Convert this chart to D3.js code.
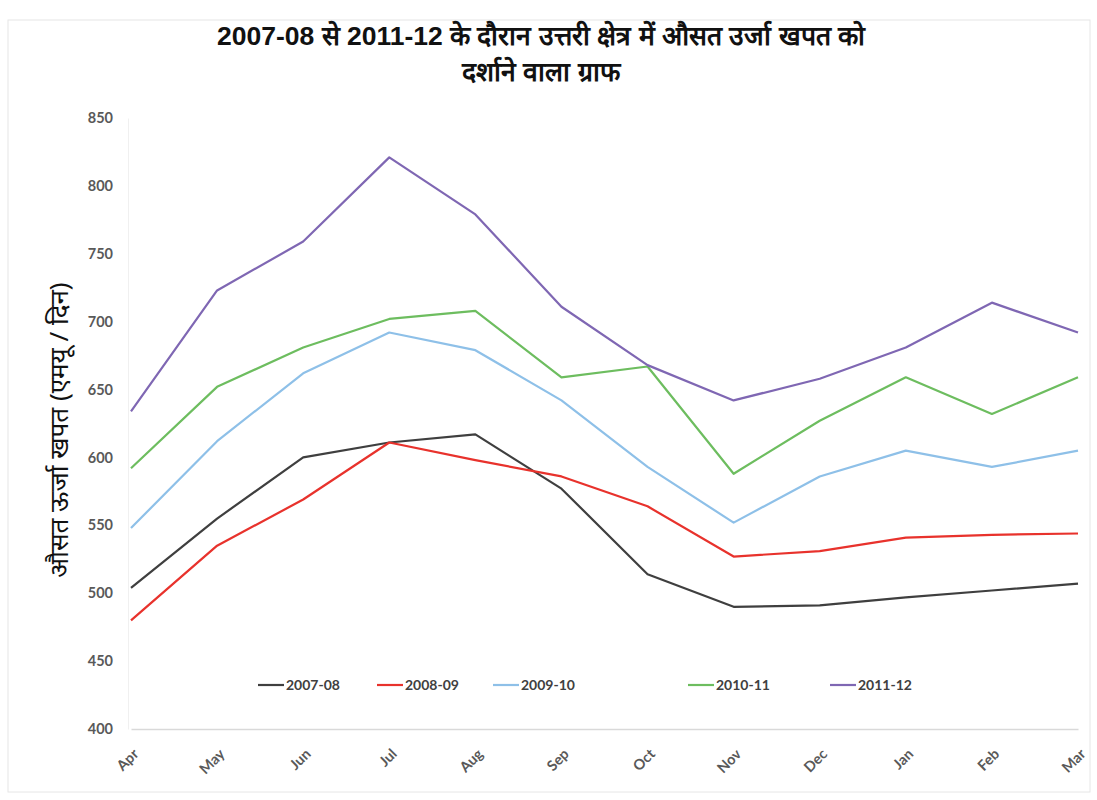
<!DOCTYPE html>
<html>
<head>
<meta charset="utf-8">
<script src="https://cdn.jsdelivr.net/npm/d3@7"></script>
<style>
  body { margin: 0; background: #fff; }
  svg { display: block; }
</style>
</head>
<body>
<svg id="chart" width="1097" height="800"></svg>
<script>
// months (x categories) and the five financial-year series
const months = ['Apr', 'May', 'Jun', 'Jul', 'Aug', 'Sep', 'Oct', 'Nov', 'Dec', 'Jan', 'Feb', 'Mar'];
const years = ['2007-08', '2008-09', '2009-10', '2010-11', '2011-12'];

const y2007 = [504, 555, 600, 611, 617, 577, 514, 490, 491, 497, 502, 507];
const y2008 = [480, 535, 569, 611, 598, 586, 564, 527, 531, 541, 543, 544];
const y2009 = [548, 612, 662, 692, 679, 642, 593, 552, 586, 605, 593, 605];
const y2010 = [592, 652, 681, 702, 708, 659, 667, 588, 627, 659, 632, 659];
const y2011 = [634, 723, 759, 821, 779, 711, 668, 642, 658, 681, 714, 692];

const yTicks = [400, 450, 500, 550, 600, 650, 700, 750, 800, 850];

const seriesValues = [y2007, y2008, y2009, y2010, y2011];
const colors = ['#3f3f3f', '#e8322c', '#8ec0e8', '#6dbd5f', '#7f67b3'];

const svg = d3.select('#chart');

// faint page frame
svg.append('rect')
  .attr('x', 8).attr('y', 20).attr('width', 1082).attr('height', 772)
  .attr('fill', 'none').attr('stroke', '#e6e6e6');

const x = d3.scalePoint().domain(months).range([131, 1078]);
const y = d3.scaleLinear().domain([400, 850]).range([729, 118]);

// title
const title = svg.append('text')
  .attr('text-anchor', 'middle')
  .attr('font-family', '"Liberation Sans Narrow", "Liberation Sans", Arial, sans-serif')
  .attr('font-weight', 'bold')
  .attr('font-size', 26.5)
  .attr('fill', '#111');
title.append('tspan').attr('x', 541).attr('y', 45)
  .text('2007-08 से 2011-12 के दौरान उत्तरी क्षेत्र में औसत उर्जा खपत को');
title.append('tspan').attr('x', 541).attr('y', 81)
  .text('दर्शाने वाला ग्राफ');

// y axis (labels only, faint line)
const yAxis = svg.append('g')
  .attr('transform', 'translate(128,0)')
  .call(d3.axisLeft(y).tickValues(yTicks).tickSize(0).tickPadding(15));
yAxis.select('.domain').attr('stroke', '#f0f0f0');
yAxis.selectAll('text')
  .attr('font-family', 'Lato, "Open Sans", sans-serif')
  .attr('font-weight', 'bold')
  .attr('font-size', 14.5)
  .attr('fill', '#595959');

// x axis
const xAxis = svg.append('g')
  .attr('transform', 'translate(0,729)')
  .call(d3.axisBottom(x).tickSize(0).tickPadding(0));
xAxis.select('.domain').attr('stroke', '#d9d9d9').attr('stroke-width', 1.5);
xAxis.selectAll('text')
  .attr('font-family', 'Lato, "Open Sans", sans-serif')
  .attr('font-weight', 'bold')
  .attr('font-size', 14.5)
  .attr('fill', '#595959')
  .attr('text-anchor', 'end')
  .attr('dy', null)
  .attr('transform', 'translate(8,26) rotate(-45)');

// y axis title
svg.append('text')
  .attr('transform', 'translate(68,430) rotate(-90)')
  .attr('text-anchor', 'middle')
  .attr('font-family', '"Noto Sans", sans-serif')
  .attr('font-size', 26)
  .attr('fill', '#111')
  .text('औसत ऊर्जा खपत (एमयू / दिन)');

// lines
const line = d3.line()
  .x((d, i) => x(months[i]))
  .y(d => y(d));

svg.append('g')
  .selectAll('path')
  .data(seriesValues)
  .join('path')
  .attr('d', line)
  .attr('fill', 'none')
  .attr('stroke', (d, i) => colors[i])
  .attr('stroke-width', 2.2)
  .attr('stroke-linejoin', 'round');

// legend
const legendX = [258, 377, 493, 688, 830];
const legend = svg.append('g')
  .selectAll('g')
  .data(years)
  .join('g')
  .attr('transform', (d, i) => `translate(${legendX[i]},685)`);
legend.append('line')
  .attr('x1', 0).attr('x2', 26)
  .attr('stroke', (d, i) => colors[i])
  .attr('stroke-width', 2.2);
legend.append('text')
  .attr('x', 28)
  .attr('dy', '0.35em')
  .attr('font-family', 'Lato, "Open Sans", sans-serif')
  .attr('font-weight', 'bold')
  .attr('font-size', 14)
  .attr('fill', '#404040')
  .text(d => d);
</script>
</body>
</html>
